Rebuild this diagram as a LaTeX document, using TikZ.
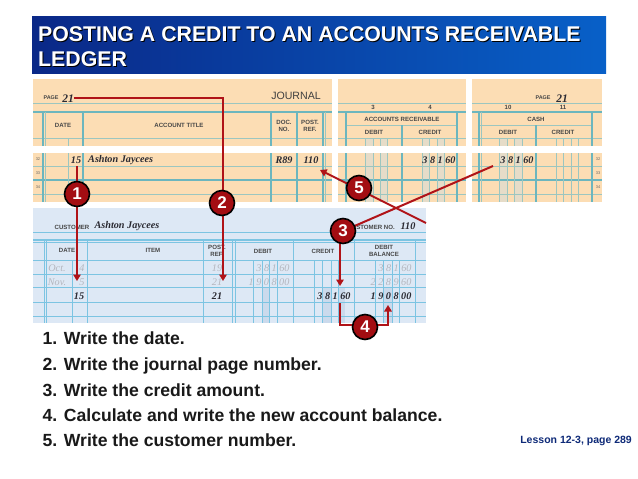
\documentclass[tikz,border=0pt]{standalone}
\usepackage{fontspec}
\setmainfont{Liberation Sans}
\newfontfamily\serifnum{Liberation Serif}
\usetikzlibrary{arrows.meta,calc}
\newcommand{\fsz}[1]{\fontsize{#1}{#1}\selectfont}
\definecolor{tanbg}{HTML}{FCDDB4}
\definecolor{tanline}{HTML}{9CC6C0}
\definecolor{tandark}{HTML}{6CB6BE}
\definecolor{tanshade}{HTML}{E6DCC8}
\definecolor{bluebg}{HTML}{DDE8F5}
\definecolor{blueline}{HTML}{7CC4E2}
\definecolor{blueshade}{HTML}{CBDAEC}
\definecolor{redline}{HTML}{B01318}
\definecolor{redfill}{HTML}{A30D12}
\definecolor{ghost}{HTML}{B4B6BE}
\definecolor{inkdark}{HTML}{2A2A32}
\definecolor{navy}{HTML}{0E2A78}
\definecolor{bannerl}{HTML}{0A2887}
\definecolor{bannerr}{HTML}{0860C8}
\tikzset{
  tl/.style={draw=tanline,line width=0.8pt},
  tlb/.style={draw=tandark,line width=1.1pt},
  bl/.style={draw=blueline,line width=0.8pt},
  blb/.style={draw=blueline,line width=1.3pt},
  lbl/.style={font=\fsz{6.1}\bfseries,text=black!72,inner sep=0pt,align=center},
  hand/.style={font=\serifnum\fsz{10.2}\bfseries\itshape,text=inkdark,inner sep=0pt,yshift=-1.5pt},
  ghosthand/.style={font=\serifnum\fsz{10.2}\itshape,text=ghost,inner sep=0pt,yshift=-1.5pt},
  rowno/.style={font=\fsz{4},text=black!60,inner sep=0pt},
  badge/.style={circle,draw=black,line width=1.6pt,fill=redfill,text=white,minimum size=25pt,inner sep=0pt,font=\fsz{17}\bfseries},
  redw/.style={draw=redline,line width=2pt},
  redarrow/.style={redw,-{Triangle[length=6.5pt,width=7.5pt]}},
  steptext/.style={font=\fsz{17.6}\bfseries,text=black!90,anchor=base west,inner sep=0pt},
  titletxt/.style={anchor=west,inner sep=0pt,font=\fsz{21.3}\bfseries}
}
\begin{document}
\begin{tikzpicture}[x=1pt,y=-1pt]
\fill[white] (0,0) rectangle (638,479);
\useasboundingbox (0,0) rectangle (638,479);
% banner
\shade[left color=bannerl,right color=bannerr] (32,16) rectangle (606,73);
\node[titletxt,text=black] at (39,35) {POSTING A CREDIT TO AN ACCOUNTS RECEIVABLE};
\node[titletxt,text=black] at (39,60) {LEDGER};
\node[titletxt,text=white] (t1) at (38,34) {POSTING A CREDIT TO AN ACCOUNTS RECEIVABLE};
\node[titletxt,text=white] (t2) at (38,59) {LEDGER};
% tan panels
\fill[tanbg] (33,79) rectangle (332,146);
\fill[tanbg] (33,153) rectangle (332,202);
\fill[tanbg] (338,79) rectangle (466,146);
\fill[tanbg] (338,153) rectangle (466,202);
\fill[tanbg] (472,79) rectangle (602,146);
\fill[tanbg] (472,153) rectangle (602,202);
% shaded columns
\foreach \a/\b in {365/373,380/387,422/429,437/444,499/507,514/522}{\fill[tanshade] (\a,153) rectangle (\b,202);}
\foreach \a/\b in {365/373,380/387,422/429,437/444,499/507,514/522}{\fill[tanshade] (\a,138) rectangle (\b,146);}
% horizontal tan lines
\foreach \a/\b in {33/332,338/466,472/602}{
  \draw[tl] (\a,103) -- (\b,103);
  \draw[tlb] (\a,112) -- (\b,112);
  \draw[tl] (\a,138) -- (\b,138);
  \draw[tl] (\a,166) -- (\b,166);
  \draw[tlb] (\a,180) -- (\b,180);
  \draw[tl] (\a,194) -- (\b,194);
}
\draw[tl] (346,125) -- (457,125);
\draw[tl] (479,125) -- (592,125);
% vertical tan lines
\foreach \x in {43,83,271,297,323,346,457,479,592}{
  \draw[tlb] (\x,112) -- (\x,146);
  \draw[tlb] (\x,153) -- (\x,202);
}
\foreach \x in {402,536}{
  \draw[tlb] (\x,125) -- (\x,146);
  \draw[tlb] (\x,153) -- (\x,202);
}
\draw[tl] (45,112) -- (45,146); \draw[tl] (45,153) -- (45,202);
\draw[tl] (325,112) -- (325,146); \draw[tl] (325,153) -- (325,202);
\draw[tl] (481,112) -- (481,146); \draw[tl] (481,153) -- (481,202);
\draw[tl] (68,138) -- (68,146); \draw[tl] (68,153) -- (68,202);
\foreach \x in {365,373,380,387,422,429,437,444,499,507,514,522,556,563,571,578}{
  \draw[tl,line width=0.6pt] (\x,138) -- (\x,146);
  \draw[tl,line width=0.6pt] (\x,153) -- (\x,202);
}
% journal text
\node[lbl,font=\fsz{5.4}\bfseries] (jp) at (51,98) {PAGE};
\node[hand,font=\serifnum\fsz{11.5}\bfseries\itshape] (j21) at (68,97) {21};
\node[inner sep=0pt,font=\fsz{10.6},text=black!75] (jt) at (296,96) {JOURNAL};
\node[lbl] (jd) at (63,125) {DATE};
\node[lbl] (jat) at (179,125) {ACCOUNT TITLE};
\node[lbl] (jdoc) at (284,126) {DOC.\\[1pt]NO.};
\node[lbl] (jpost) at (310,126) {POST.\\[1pt]REF.};
\node[rowno] (r1) at (38,159) {32};
\node[rowno] (r2) at (38,173) {33};
\node[rowno] (r3) at (38,187) {34};
\node[hand] (j15) at (76,159) {15};
\node[hand,anchor=west] (jn) at (88,159) {Ashton Jaycees};
\node[hand] (jr) at (284,159) {R89};
\node[hand] (j110) at (311,159) {110};
% AR text
\node[lbl] (c3) at (373,107) {3};
\node[lbl] (c4) at (430,107) {4};
\node[lbl] (ar) at (402,119) {ACCOUNTS RECEIVABLE};
\node[lbl] (ard) at (374,132) {DEBIT};
\node[lbl] (arc) at (430,132) {CREDIT};
\node[hand] (arv) at (439,159) {3 8 1 60};
% cash text
\node[lbl,font=\fsz{5.4}\bfseries] (cp) at (543,98) {PAGE};
\node[hand,font=\serifnum\fsz{11.5}\bfseries\itshape] (c21) at (562,97) {21};
\node[lbl] (c10) at (508,107) {10};
\node[lbl] (c11) at (563,107) {11};
\node[lbl] (cc) at (536,119) {CASH};
\node[lbl] (cd) at (508,132) {DEBIT};
\node[lbl] (ccr) at (563,132) {CREDIT};
\node[hand] (cv) at (517,159) {3 8 1 60};
\node[rowno] (s1) at (598,159) {32};
\node[rowno] (s2) at (598,173) {33};
\node[rowno] (s3) at (598,187) {34};
% customer card
\fill[bluebg] (33,208) rectangle (426,323);
\foreach \a/\b in {262/269,322/331,338/345,383/392}{\fill[blueshade] (\a,287) rectangle (\b,323);}
\foreach \y in {232,260,274,287,302,316}{\draw[bl] (33,\y) -- (426,\y);}
\draw[blb] (33,240) -- (426,240); \draw[bl] (33,242.5) -- (426,242.5);
\foreach \x in {44,46,87,203,232,235,293,354,415}{\draw[bl] (\x,241) -- (\x,323);}
\draw[bl] (72,260) -- (72,323);
\foreach \x in {253,262,269,277,314,322,331,338,375,383,392,399}{\draw[bl,line width=0.6pt] (\x,260) -- (\x,323);}
\node[lbl] (k1) at (72,227) {CUSTOMER};
\node[hand] (kn) at (127,225) {Ashton Jaycees};
\node[lbl,anchor=east] (k2) at (395,227) {CUSTOMER NO.};
\node[hand] (k3) at (408,225) {110};
\node[lbl] (h1) at (67,250) {DATE};
\node[lbl] (h2) at (153,250) {ITEM};
\node[lbl] (h3) at (217,251) {POST.\\[1pt]REF.};
\node[lbl] (h4) at (263,251) {DEBIT};
\node[lbl] (h5) at (323,251) {CREDIT};
\node[lbl] (h6) at (384,251) {DEBIT\\[1pt]BALANCE};
\node[ghosthand] (g1) at (57,267) {Oct.};
\node[ghosthand] (g2) at (82,267) {4};
\node[ghosthand] (g3) at (57,281) {Nov.};
\node[ghosthand] (g4) at (82,281) {5};
\node[ghosthand] (g5) at (217,267) {19};
\node[ghosthand] (g6) at (217,281) {21};
\node[ghosthand] (g7) at (273,267) {3 8 1 60};
\node[ghosthand] (g8) at (269,281) {1 9 0 8 00};
\node[ghosthand] (g9) at (395,267) {3 8 1 60};
\node[ghosthand] (g10) at (391,281) {2 2 8 9 60};
\node[hand] (b1) at (79,295) {15};
\node[hand] (b2) at (217,295) {21};
\node[hand] (b3) at (334,295) {3 8 1 60};
\node[hand] (b4) at (391,295) {1 9 0 8 00};
% steps
\node[steptext] (l1) at (42.5,344.5) {1. Write the date.};
\node[steptext] (l2) at (42.5,370) {2. Write the journal page number.};
\node[steptext] (l3) at (42.5,396) {3. Write the credit amount.};
\node[steptext] (l4) at (42.5,421) {4. Calculate and write the new account balance.};
\node[steptext] (l5) at (42.5,446) {5. Write the customer number.};
\node[anchor=east,inner sep=0pt,font=\fsz{10.5}\bfseries,text=navy] (ls) at (632,441) {Lesson 12-3, page 289};
% connector ends
\coordinate (a1s) at (77,166);
\coordinate (a1e) at (77,281);
\coordinate (a2s) at (74,98);
\coordinate (a2k) at (223,98);
\coordinate (a2e) at (223,281);
\coordinate (a3s) at (340,240);
\coordinate (a3e) at (340,286);
\coordinate (a3f) at (493,166);
\coordinate (a3g) at (343,231);
\coordinate (a4s) at (340,303);
\coordinate (a4k1) at (340,325);
\coordinate (a4k2) at (388,325);
\coordinate (a4e) at (388,305);
\coordinate (a5s) at (426,223);
\coordinate (a5e) at (320,170);
% connectors
\draw[redarrow] (a1s) -- (a1e);
\draw[redarrow] (a2s) -- (a2k) -- (a2e);
\draw[redarrow] (a3s) -- (a3e);
\draw[redw] (a3f) -- (a3g);
\draw[redarrow] (a4s) -- (a4k1) -- (a4k2) -- (a4e);
\draw[redarrow] (a5s) -- (a5e);
% badges
\node[badge] (n1) at (77,194) {1};
\node[badge] (n2) at (222,203) {2};
\node[badge] (n3) at (343,231) {3};
\node[badge] (n4) at (365,327) {4};
\node[badge] (n5) at (359,188) {5};
\end{tikzpicture}
\end{document}
